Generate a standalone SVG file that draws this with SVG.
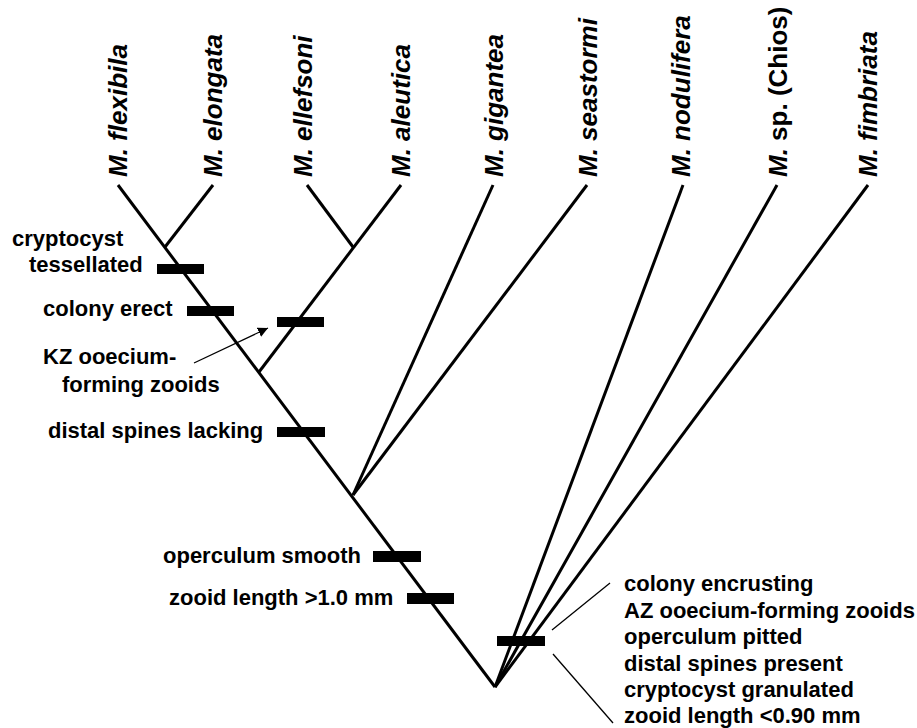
<svg xmlns="http://www.w3.org/2000/svg" width="917" height="728" viewBox="0 0 917 728">
<style>
.br{stroke:#000;stroke-width:3;fill:none;stroke-linecap:butt}
.thin{stroke:#000;stroke-width:1.3;fill:none}
.bar{fill:#000}
.lab{font-family:"Liberation Sans",Arial,sans-serif;font-weight:bold;font-size:22px;fill:#000}
.sp{font-family:"Liberation Sans",Arial,sans-serif;font-weight:bold;font-size:26px;fill:#000}
.it{font-style:italic}
</style>
<defs>
<marker id="ah" viewBox="0 0 10 10" refX="10" refY="5" markerWidth="10" markerHeight="10" markerUnits="userSpaceOnUse" orient="auto"><path d="M0,0 L10,5 L0,10 z" fill="#000"/></marker>
</defs>
<rect width="917" height="728" fill="#fff"/>
<g id="connectors">
<path class="br" d="M118,185 L495,687"/>
<path class="br" d="M213,185 L165,247"/>
<path class="br" d="M307,185 L353,247"/>
<path class="br" d="M401,185 L259,372"/>
<path class="br" d="M493,185 L353,495"/>
<path class="br" d="M587,185 L353,495"/>
<path class="br" d="M683,185 L495,687"/>
<path class="br" d="M777,185 L495,687"/>
<path class="br" d="M868,185 L495,687"/>
<path class="thin" d="M194,363 L268,328" marker-end="url(#ah)"/>
<path class="thin" d="M552,630 L610,583"/>
<path class="thin" d="M553,654 L613,723"/>
</g>
<g id="taxa">
<g id="t-flexibila"><text class="sp it" transform="translate(127,177) rotate(-90)">M. flexibila</text></g>
<g id="t-elongata"><text class="sp it" transform="translate(222,177) rotate(-90)">M. elongata</text></g>
<g id="t-ellefsoni"><text class="sp it" transform="translate(312,177) rotate(-90)">M. ellefsoni</text></g>
<g id="t-aleutica"><text class="sp it" transform="translate(410,177) rotate(-90)">M. aleutica</text></g>
<g id="t-gigantea"><text class="sp it" transform="translate(503,177) rotate(-90)">M. gigantea</text></g>
<g id="t-seastormi"><text class="sp it" transform="translate(597,177) rotate(-90)">M. seastormi</text></g>
<g id="t-nodulifera"><text class="sp it" transform="translate(690,177) rotate(-90)">M. nodulifera</text></g>
<g id="t-chios"><text class="sp" transform="translate(787,177) rotate(-90)"><tspan class="it">M.</tspan> sp. (Chios)</text></g>
<g id="t-fimbriata"><text class="sp it" transform="translate(877,177) rotate(-90)">M. fimbriata</text></g>
</g>
<g id="characters">
<g id="c-cryptocyst"><rect class="bar" x="157" y="264" width="47" height="10"/><text class="lab" x="12" y="246">cryptocyst</text><text class="lab" x="29" y="272">tessellated</text></g>
<g id="c-colony-erect"><rect class="bar" x="187" y="306" width="47" height="10"/><text class="lab" x="43" y="316">colony erect</text></g>
<g id="c-kz"><rect class="bar" x="277" y="317" width="47" height="10"/><text class="lab" x="43" y="364">KZ ooecium-</text><text class="lab" x="62" y="392">forming zooids</text></g>
<g id="c-distal-lacking"><rect class="bar" x="277" y="427" width="48" height="10"/><text class="lab" x="48" y="438">distal spines lacking</text></g>
<g id="c-operculum"><rect class="bar" x="373" y="551" width="48" height="11"/><text class="lab" x="163" y="563">operculum smooth</text></g>
<g id="c-zooid-length"><rect class="bar" x="407" y="593" width="47" height="11"/><text class="lab" x="169" y="605">zooid length &gt;1.0 mm</text></g>
<g id="c-root"><rect class="bar" x="497" y="636" width="48" height="10"/>
<text class="lab" x="624" y="591">colony encrusting</text>
<text class="lab" x="624" y="617.5">AZ ooecium-forming zooids</text>
<text class="lab" x="624" y="644">operculum pitted</text>
<text class="lab" x="624" y="670.5">distal spines present</text>
<text class="lab" x="624" y="697">cryptocyst granulated</text>
<text class="lab" x="624" y="723">zooid length &lt;0.90 mm</text>
</g>
</g>
</svg>
